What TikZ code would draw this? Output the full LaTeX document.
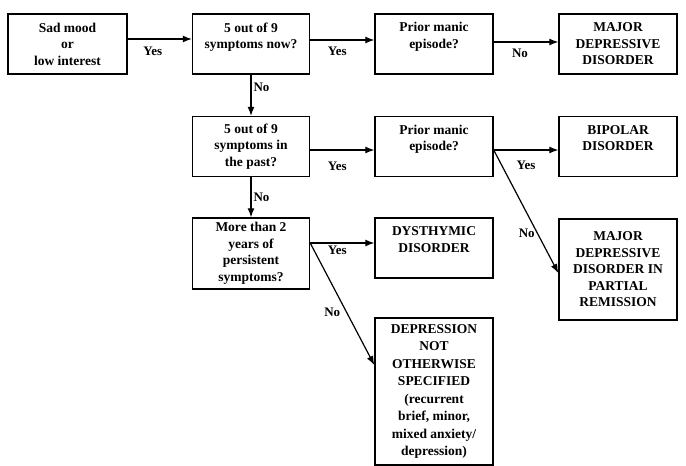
\documentclass[tikz,border=0pt]{standalone}
\usepackage{fontspec}
\setmainfont{Liberation Serif}
\usetikzlibrary{arrows.meta}
\tikzstyle{question} = [rectangle, minimum width=117pt, minimum height=60pt, align=center, draw=black, line width=1.4pt, font=\bfseries\fontsize{13.5}{16.5}\selectfont]
\tikzstyle{diagnosis} = [rectangle, minimum width=118pt, minimum height=60pt, align=center, draw=black, line width=1.4pt, font=\bfseries\fontsize{13.5}{16.5}\selectfont]
\tikzstyle{answer} = [font=\bfseries\fontsize{13}{15}\selectfont, inner sep=2pt]
\tikzstyle{arrow} = [line width=1.2pt, ->, >={Latex[length=9pt,width=7pt]}]

\begin{document}
\begin{tikzpicture}[node distance=183.5pt]
		\useasboundingbox (0,0) rectangle (686pt,-466pt);
		\node [question, minimum width=119pt] at (67.5pt,-44pt) (mood) {Sad mood\\or\\low interest};
		\node [question, right of=mood, text depth=17pt] 						(now)		{5 out of 9\\symptoms now?};
		\node [question, right of=now, node distance=183pt, text depth=17pt, minimum width=118pt] (manic1) {Prior manic\\episode?};
		\node [diagnosis, right of=manic1, node distance=184pt] 				(mdd)		{MAJOR\\DEPRESSIVE\\DISORDER};
		\node [question, below of=now, node distance=102.5pt] 					(past)		{5 out of 9\\symptoms in\\the past?};
		\node [question, right of=past, node distance=183pt, text depth=17pt, minimum width=118pt] (manic2) {Prior manic\\episode?};
		\node [diagnosis, right of=manic2, node distance=184pt, text depth=17pt] (bipolar)	{BIPOLAR\\DISORDER};
		\node [question, below of=past, node distance=107pt, minimum height=71pt] (years)	{More than 2\\years of\\persistent\\symptoms?};
		\node [diagnosis, right of=years, node distance=183pt, yshift=5.5pt, text depth=17pt] (dysthymic) {DYSTHYMIC\\DISORDER};
		\node [diagnosis, below of=bipolar, node distance=123pt, minimum height=101pt] (partial) {MAJOR\\DEPRESSIVE\\DISORDER IN\\PARTIAL\\REMISSION};
		\node [diagnosis, below of=dysthymic, node distance=143.5pt, minimum height=147pt, font=\bfseries\fontsize{13.5}{17.5}\selectfont] (nos) {DEPRESSION\\NOT\\OTHERWISE\\SPECIFIED\\(recurrent\\brief, minor,\\mixed anxiety/\\depression)};
		
		\draw [arrow] ([yshift=5pt]mood.east) -- node[answer, below=5pt, xshift=-7pt]{Yes} ([yshift=5pt]now.west);
		\draw [arrow] ([yshift=4pt]now.east) -- node[answer, below=4pt, xshift=-5pt]{Yes} ([yshift=4pt]manic1.west);
		\draw [arrow] ([yshift=2pt]manic1.east) -- node[answer, below=4pt, xshift=-6pt]{No} ([yshift=2pt]mdd.west);
		\draw [arrow] (now) -- node[answer, right, yshift=8pt]{No} (past);
		\draw [arrow] ([yshift=-3.5pt]past.east) -- node[answer, below=9pt, xshift=-5pt]{Yes} ([yshift=-3.5pt]manic2.west);
		\draw [arrow] ([yshift=-3.5pt]manic2.east) -- node[answer, below=8pt]{Yes} ([yshift=-3.5pt]bipolar.west);
		\draw [arrow] ([yshift=-3.5pt]manic2.east) -- node[answer, left, pos=0.675]{No} ([yshift=-3.5pt]partial.west);
		\draw [arrow] (past) -- node[answer, right]{No} (years);
		\draw [arrow] ([yshift=10.5pt]years.east) -- node[answer, below=0pt, xshift=-5pt]{Yes} ([yshift=5pt]dysthymic.west);
		\draw [arrow] ([yshift=10.5pt]years.east) -- node[answer, left=4pt, pos=0.57]{No} ([yshift=26.5pt]nos.west);
	\end{tikzpicture}
\end{document}
